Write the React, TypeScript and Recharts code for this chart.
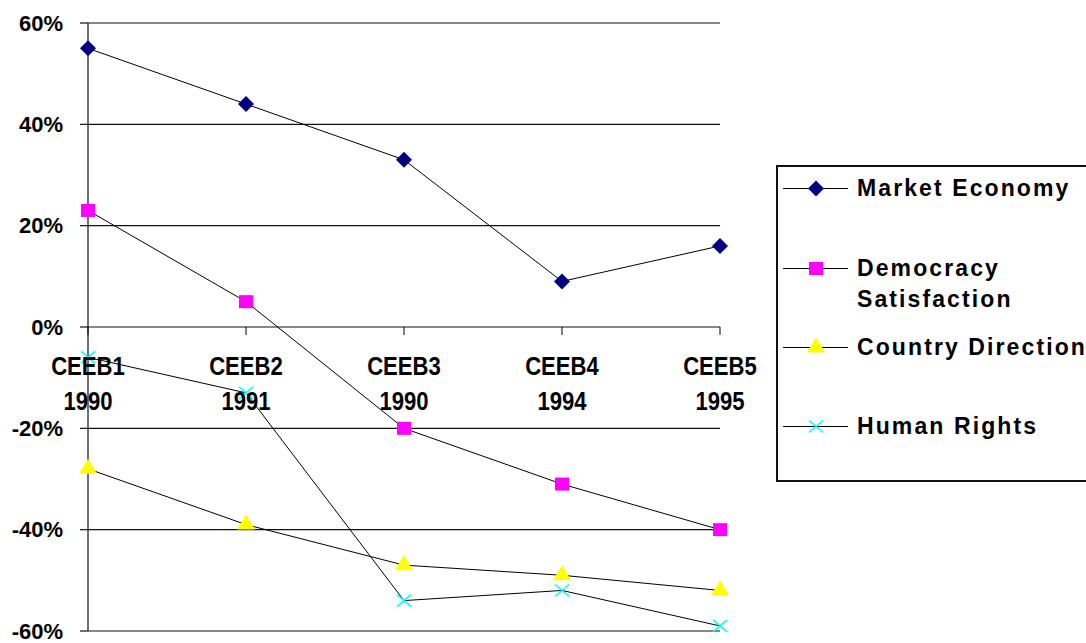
import { LineChart, Line, XAxis, YAxis, CartesianGrid, Legend } from 'recharts'

const categories = ['CEEB1', 'CEEB2', 'CEEB3', 'CEEB4', 'CEEB5']
const years = ['1990', '1991', '1990', '1994', '1995']
const marketEconomy = [55, 44, 33, 9, 16]
const democracySatisfaction = [23, 5, -20, -31, -40]
const countryDirection = [-28, -39, -47, -49, -52]
const humanRights = [-6, -13, -54, -52, -59]
const yTicks = [-60, -40, -20, 0, 20, 40, 60]

const FONT = '"Liberation Sans", Arial, sans-serif'
const W = 1086
const H = 643
const M = { top: 23, right: 366, bottom: 11, left: 8 }
const Y_MIN = -60
const Y_MAX = 60
const X_AXIS_H = 1
// x labels hang under the 0% line, not under the plot
const ZERO_Y = M.top + ((Y_MAX - 0) / (Y_MAX - Y_MIN)) * (H - M.top - M.bottom - X_AXIS_H)

const data = categories.map((name, i) => ({
  name,
  year: years[i],
  market: marketEconomy[i],
  democracy: democracySatisfaction[i],
  country: countryDirection[i],
  rights: humanRights[i],
}))

type Pt = { cx?: number; cy?: number }

const Diamond = ({ cx = 0, cy = 0 }: Pt) => (
  <polygon points={`${cx},${cy - 8} ${cx + 8},${cy} ${cx},${cy + 8} ${cx - 8},${cy}`} fill="#000080" />
)
const Square = ({ cx = 0, cy = 0 }: Pt) => (
  <rect x={cx - 7} y={cy - 6.5} width={14} height={13} fill="#ff00ff" />
)
const Triangle = ({ cx = 0, cy = 0 }: Pt) => (
  <polygon points={`${cx},${cy - 10} ${cx + 9},${cy + 5} ${cx - 9},${cy + 5}`} fill="#ffff00" />
)
const Cross = ({ cx = 0, cy = 0 }: Pt) => (
  <g stroke="#00ffff" strokeWidth={1.5}>
    <line x1={cx - 7} y1={cy - 6} x2={cx + 7} y2={cy + 6} />
    <line x1={cx - 7} y1={cy + 6} x2={cx + 7} y2={cy - 6} />
  </g>
)

const series = [
  { key: 'market', name: 'Market Economy', Marker: Diamond },
  { key: 'democracy', name: 'Democracy Satisfaction', Marker: Square },
  { key: 'country', name: 'Country Direction', Marker: Triangle },
  { key: 'rights', name: 'Human Rights', Marker: Cross },
]

// tall, slightly squeezed bold text for the category labels
function TallText({ x, y, children }: { x: number; y: number; children: any }) {
  return (
    <text
      transform={`translate(${x},${y}) scale(0.85,1)`}
      textAnchor="middle"
      fontFamily={FONT}
      fontWeight="bold"
      fontSize={26}
      fill="#000"
    >
      {children}
    </text>
  )
}

function CategoryTick(props: any) {
  const { x, payload } = props
  const row = data[payload.index]
  return (
    <g>
      <line x1={x} y1={ZERO_Y} x2={x} y2={ZERO_Y + 8} stroke="#000" />
      <TallText x={x} y={ZERO_Y + 48}>{payload.value}</TallText>
      <TallText x={x} y={ZERO_Y + 83}>{row ? row.year : ''}</TallText>
    </g>
  )
}

const legendRowCenters = [21, 101, 180, 259]

function LegendBox() {
  return (
    <div style={{ position: 'relative', width: '100%', height: '100%' }}>
      {series.map((s, i) => {
        const M2 = s.Marker
        return (
          <div
            key={s.key}
            style={{ position: 'absolute', top: legendRowCenters[i] - 15.5, left: 0, display: 'flex', alignItems: 'flex-start' }}
          >
            <svg width={79} height={31} style={{ flex: 'none' }}>
              <line x1={5} y1={15.5} x2={70} y2={15.5} stroke="#000" />
              <M2 cx={38} cy={15.5} />
            </svg>
            <div
              style={{
                width: 240,
                fontFamily: FONT,
                fontWeight: 'bold',
                fontSize: 23,
                letterSpacing: 2.1,
                lineHeight: '31px',
                color: '#000',
              }}
            >
              {s.name}
            </div>
          </div>
        )
      })}
    </div>
  )
}

export default function App() {
  return (
    <div style={{ position: 'fixed', left: 0, top: 0, width: W, height: H, overflow: 'hidden', background: '#fff' }}>
      <LineChart width={W} height={H} data={data} margin={M}>
        <CartesianGrid horizontal vertical={false} stroke="#111" strokeWidth={1.2} />
        <XAxis
          dataKey="name"
          height={X_AXIS_H}
          axisLine={false}
          tickLine={false}
          tick={<CategoryTick />}
          interval={0}
        />
        <YAxis
          width={80}
          domain={[Y_MIN, Y_MAX]}
          ticks={yTicks}
          interval={0}
          tickFormatter={(v: number) => `${v}%`}
          axisLine={{ stroke: '#111', strokeWidth: 1.2 }}
          tickLine={{ stroke: '#111', strokeWidth: 1.2 }}
          tickSize={8}
          tickMargin={17}
          tick={{ fontFamily: FONT, fontWeight: 'bold', fontSize: 22, fill: '#000' }}
        />
        <Legend
          layout="vertical"
          align="center"
          verticalAlign="middle"
          content={() => <LegendBox />}
          wrapperStyle={{
            left: 776,
            top: 165,
            width: 330,
            height: 317,
            border: '2px solid #111',
            boxSizing: 'border-box',
            background: '#fff',
          }}
        />
        {series.map((s) => {
          const Mk = s.Marker
          return (
            <Line
              key={s.key}
              dataKey={s.key}
              name={s.name}
              type="linear"
              stroke="#000"
              strokeWidth={1}
              isAnimationActive={false}
              dot={(p: any) => <Mk key={`${s.key}-${p.index}`} cx={p.cx} cy={p.cy} />}
              activeDot={false}
            />
          )
        })}
      </LineChart>
    </div>
  )
}
